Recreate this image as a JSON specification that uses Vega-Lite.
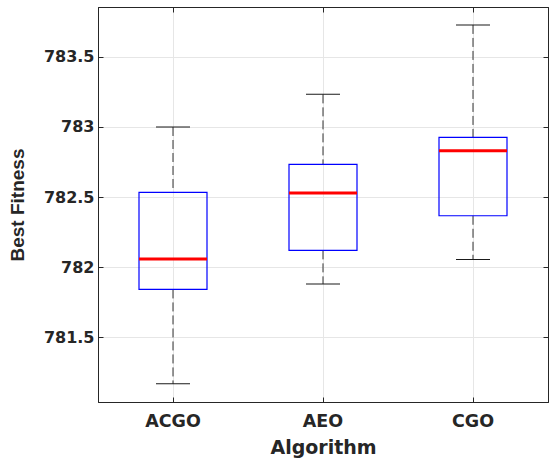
{
  "$schema": "https://vega.github.io/schema/vega-lite/v6.json",
  "width": 450,
  "height": 395,
  "autosize": {"type": "none"},
  "padding": {"left": 98, "top": 7, "right": 1, "bottom": 56},
  "background": "white",
  "config": {
    "view": {"stroke": "#262626", "strokeWidth": 1},
    "axis": {
      "labelFont": "DejaVu Sans",
      "labelFontWeight": "bold",
      "labelFontSize": 16,
      "labelColor": "#262626",
      "titleFont": "DejaVu Sans",
      "titleFontWeight": "bold",
      "titleFontSize": 19,
      "titleColor": "#262626",
      "domainColor": "#262626",
      "tickColor": "#262626",
      "gridColor": "#e6e6e6",
      "gridWidth": 1
    }
  },
  "data": {
    "values": [
      {"Algorithm": "ACGO", "min": 781.166, "q1": 781.84, "median": 782.057, "q3": 782.533, "max": 783.0},
      {"Algorithm": "AEO", "min": 781.879, "q1": 782.119, "median": 782.529, "q3": 782.733, "max": 783.233},
      {"Algorithm": "CGO", "min": 782.054, "q1": 782.366, "median": 782.83, "q3": 782.926, "max": 783.729}
    ]
  },
  "resolve": {"axis": {"x": "independent", "y": "independent"}},
  "layer": [
    {
      "mark": {"type": "rule", "color": "#333333", "opacity": 1, "strokeWidth": 1, "strokeDash": [9, 4]},
      "encoding": {
        "x": {"field": "Algorithm", "type": "nominal", "sort": null,
          "scale": {"paddingInner": 0, "paddingOuter": 0},
          "axis": {"orient": "bottom", "title": "Algorithm", "labelAngle": 0, "labelFontSize": 17.5, "tickSize": -5, "labelPadding": 15, "titlePadding": 9, "grid": true, "domain": true}},
        "y": {"field": "max", "type": "quantitative",
          "scale": {"domain": [781.036, 783.857], "nice": false, "zero": false},
          "axis": {"orient": "left", "title": "Best Fitness", "titleFont": "Liberation Sans", "values": [781.5, 782, 782.5, 783, 783.5], "format": ".1~f", "tickSize": -5, "labelPadding": 9, "titlePadding": 16, "grid": true}},
        "y2": {"field": "q3"}
      }
    },
    {
      "mark": {"type": "rule", "color": "#333333", "opacity": 1, "strokeWidth": 1, "strokeDash": [9, 4]},
      "encoding": {
        "x": {"field": "Algorithm", "type": "nominal", "sort": null, "axis": null},
        "y": {"field": "q1", "type": "quantitative", "axis": null},
        "y2": {"field": "min"}
      }
    },
    {
      "mark": {"type": "tick", "color": "#1a1a1a", "opacity": 1, "size": 34, "thickness": 1},
      "encoding": {
        "x": {"field": "Algorithm", "type": "nominal", "sort": null,
          "axis": {"orient": "top", "title": null, "labels": false, "tickSize": -5, "grid": false}},
        "y": {"field": "max", "type": "quantitative",
          "axis": {"orient": "right", "title": null, "labels": false, "tickSize": -5, "grid": false, "values": [781.5, 782, 782.5, 783, 783.5]}}
      }
    },
    {
      "mark": {"type": "tick", "color": "#1a1a1a", "opacity": 1, "size": 34, "thickness": 1},
      "encoding": {
        "x": {"field": "Algorithm", "type": "nominal", "sort": null, "axis": null},
        "y": {"field": "min", "type": "quantitative", "axis": null}
      }
    },
    {
      "mark": {"type": "bar", "filled": false, "stroke": "#0000ff", "opacity": 1, "strokeWidth": 1.2, "size": 68},
      "encoding": {
        "x": {"field": "Algorithm", "type": "nominal", "sort": null, "axis": null},
        "y": {"field": "q3", "type": "quantitative", "axis": null},
        "y2": {"field": "q1"}
      }
    },
    {
      "mark": {"type": "tick", "color": "#ff0000", "opacity": 1, "size": 68, "thickness": 3},
      "encoding": {
        "x": {"field": "Algorithm", "type": "nominal", "sort": null, "axis": null},
        "y": {"field": "median", "type": "quantitative", "axis": null}
      }
    }
  ]
}
